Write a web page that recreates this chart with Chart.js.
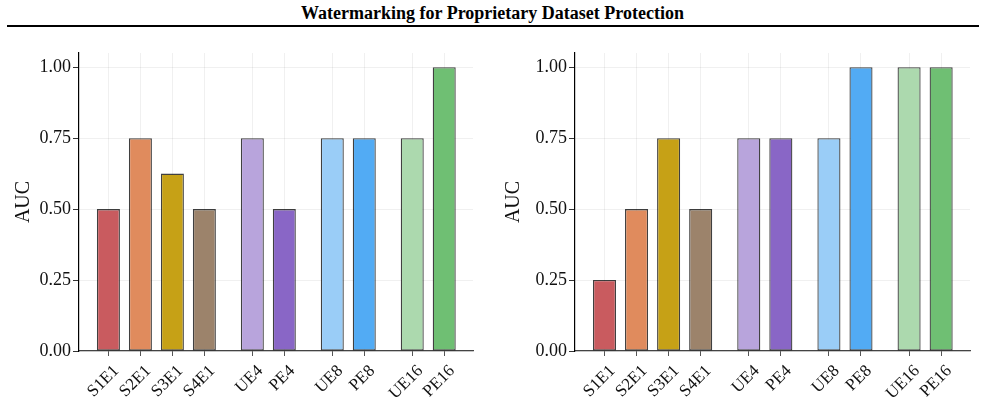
<!DOCTYPE html>
<html>
<head>
<meta charset="utf-8">
<script src="https://cdn.jsdelivr.net/npm/chart.js@4.4.1/dist/chart.umd.min.js"></script>
<style>
  html, body { margin: 0; padding: 0; background: #fff; }
  body { width: 985px; height: 404px; position: relative; overflow: hidden; }
  #title {
    position: absolute; left: 0; top: 3px; width: 985px; text-align: center;
    font: bold 18px "Liberation Serif", "Times New Roman", serif; color: #000;
  }
  #rule { position: absolute; left: 7px; top: 25px; width: 972px; height: 2px; background: #000; }
  .panel { position: absolute; top: 30px; height: 374px; }
  #left { left: 0; width: 490px; }
  #right { left: 490px; width: 495px; }
</style>
</head>
<body>
<div id="title">Watermarking for Proprietary Dataset Protection</div>
<div id="rule"></div>
<div class="panel" id="left"><canvas id="chart-left"></canvas></div>
<div class="panel" id="right"><canvas id="chart-right"></canvas></div>
<script>
// categories and where they sit on the x axis (groups separated by gaps)
const categories = ['S1E1', 'S2E1', 'S3E1', 'S4E1', 'UE4', 'PE4', 'UE8', 'PE8', 'UE16', 'PE16'];
const positions = [0, 1, 2, 3, 4.5, 5.5, 7, 8, 9.5, 10.5];
const yTicks = [0, 0.25, 0.5, 0.75, 1.0];

const leftAuc = [0.5, 0.75, 0.625, 0.5, 0.75, 0.5, 0.75, 0.75, 0.75, 1.0];
const rightAuc = [0.25, 0.5, 0.75, 0.5, 0.75, 0.75, 0.75, 1.0, 1.0, 1.0];

const barColors = ['#c95b5f', '#e08b5d', '#c6a116', '#9c836b', '#b8a4dc', '#8966c6', '#9acdf7', '#52abf4', '#acd9ae', '#6fbf73'];

const serif = '"Liberation Serif", "Times New Roman", serif';

function makeChart(canvasId, values, yWidth, padRight) {
  const ctx = document.getElementById(canvasId).getContext('2d');
  return new Chart(ctx, {
    type: 'bar',
    data: {
      datasets: [{
        data: values.map((v, i) => ({ x: positions[i], y: v })),
        backgroundColor: barColors,
        borderColor: 'rgba(0, 0, 0, 0.75)',
        borderWidth: 1.3,
        borderSkipped: false,
        categoryPercentage: 1,
        barPercentage: 0.72
      }]
    },
    options: {
      responsive: true,
      maintainAspectRatio: false,
      animation: false,
      layout: { padding: { top: 23, right: padRight, left: 0, bottom: 0 } },
      plugins: { legend: { display: false }, tooltip: { enabled: false } },
      scales: {
        x: {
          type: 'linear',
          min: -0.92,
          max: 11.4,
          offset: false,
          afterBuildTicks: function(scale) {
            scale.ticks = positions.map(p => ({ value: p }));
          },
          afterFit: function(scale) { scale.height = 53; },
          border: { display: true, color: '#444', width: 1.2 },
          grid: { offset: false, color: 'rgba(0,0,0,0.06)', tickColor: '#555', tickLength: 5, drawOnChartArea: true },
          ticks: {
            autoSkip: false,
            minRotation: 45,
            maxRotation: 45,
            padding: 5,
            labelOffset: 8,
            color: '#111',
            font: { family: serif, size: 17 },
            callback: function(value, index) { return categories[index]; }
          }
        },
        y: {
          min: 0,
          max: 1.05,
          afterBuildTicks: function(scale) {
            scale.ticks = yTicks.map(v => ({ value: v }));
          },
          afterFit: function(scale) { scale.width = yWidth; },
          border: { display: true, color: '#000', width: 1.2 },
          grid: { color: 'rgba(0,0,0,0.06)', tickColor: '#333', tickLength: 6 },
          ticks: {
            padding: 2,
            color: '#111',
            font: { family: serif, size: 18 },
            callback: function(value) { return value.toFixed(2); }
          },
          title: {
            display: true,
            text: 'AUC',
            color: '#111',
            padding: { top: 12, bottom: 0 },
            font: { family: serif, size: 20 }
          }
        }
      }
    }
  });
}

makeChart('chart-left', leftAuc, 79, 17);
makeChart('chart-right', rightAuc, 85, 15);
</script>
</body>
</html>
